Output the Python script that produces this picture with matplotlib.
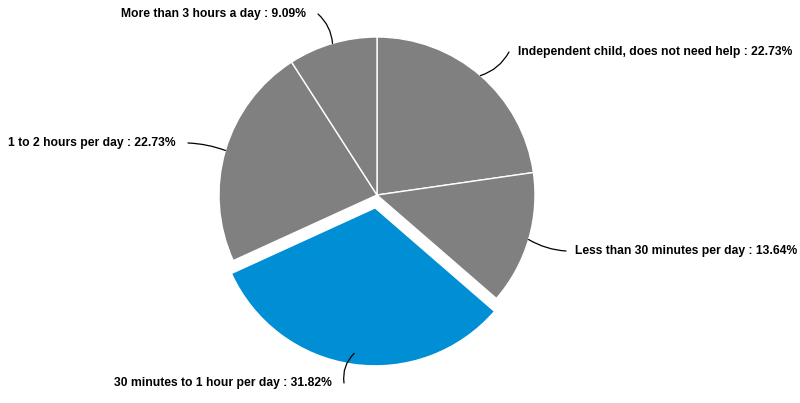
import matplotlib
matplotlib.use('Agg')
import matplotlib.pyplot as plt
import numpy as np

labels = ['Independent child, does not need help', 'Less than 30 minutes per day',
          '30 minutes to 1 hour per day', '1 to 2 hours per day', 'More than 3 hours a day']
shares = [22.73, 13.64, 31.82, 22.73, 9.09]
highlight = '30 minutes to 1 hour per day'

W, H = 800, 403
fig = plt.figure(figsize=(W / 100, H / 100), dpi=100)
ax = fig.add_axes([0, 0, 1, 1])

cx, cy, r = 377, H - 195, 158
colors = ['#008fd5' if l == highlight else '#808080' for l in labels]
# explode is in data units here (axes are in pixels)
explode = [13 if l == highlight else 0 for l in labels]

wedges, _ = ax.pie(shares, colors=colors, explode=explode, startangle=90,
                   counterclock=False, center=(cx, cy), radius=r,
                   wedgeprops=dict(edgecolor='white', linewidth=1))

# pie() resets the limits, so set pixel-like limits afterwards
ax.set_xlim(0, W)
ax.set_ylim(0, H)
ax.set_aspect('equal')
ax.axis('off')

# label layout: (leader end x, leader end y in pixels from top, text side, curvature)
layout = {
    'Independent child, does not need help': (509, 52, 'left', -0.2),
    'Less than 30 minutes per day': (566, 251, 'left', -0.12),
    '30 minutes to 1 hour per day': (344, 383, 'right', -0.25),
    '1 to 2 hours per day': (188, 143, 'right', -0.08),
    'More than 3 hours a day': (318, 14, 'right', -0.2),
}

for w, lab, val in zip(wedges, labels, shares):
    ang = np.deg2rad((w.theta1 + w.theta2) / 2)
    wx, wy = w.center
    rr = r * 0.93 if lab == highlight else r
    anchor = (wx + rr * np.cos(ang), wy + rr * np.sin(ang))
    ex, ey, side, rad = layout[lab]
    ey = H - ey
    ax.annotate('', xy=anchor, xytext=(ex, ey),
                arrowprops=dict(arrowstyle='-', color='black', lw=0.9,
                                shrinkA=0, shrinkB=0,
                                connectionstyle=f'arc3,rad={rad}'))
    tx = ex + 9 if side == 'left' else ex - 12
    ax.text(tx, ey, f'{lab} : {val:.2f}%', ha=side, va='center',
            fontsize=8.7, fontweight='bold', family='Liberation Sans')

fig.savefig('out.png', dpi=100)
